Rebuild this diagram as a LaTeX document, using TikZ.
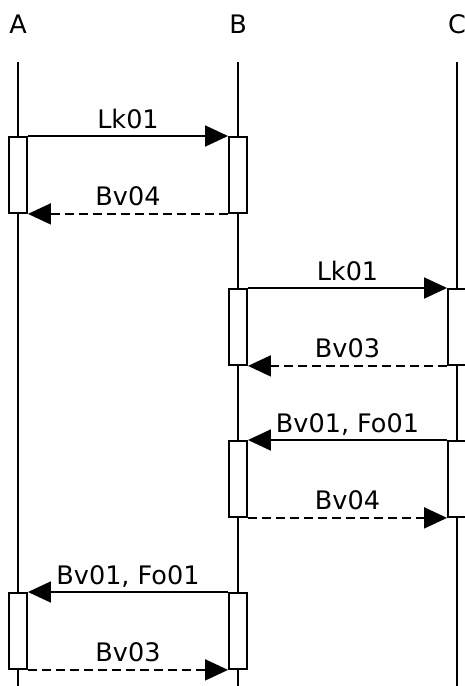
\documentclass[tikz,border=0pt]{standalone}
\usepackage{fontspec}
\setmainfont{DejaVu Sans}
\usepackage{tikz}
\usetikzlibrary{arrows.meta}

\begin{document}
\begin{tikzpicture}[x=1pt, y=-1pt, line width=1.9pt,
  font=\fontsize{25.5}{30}\selectfont,
  lifehead/.style={anchor=base, inner sep=0pt},
  actbox/.style={draw, fill=white, anchor=north, inner sep=0pt,
    minimum width=18pt, minimum height=76pt},
  msg/.style={-{Triangle[length=23pt, width=21pt]}},
  reply/.style={msg, dash pattern=on 9pt off 5pt},
  lbl/.style={midway, anchor=base, yshift=8pt, inner sep=0pt}]
\useasboundingbox (0,0) rectangle (465,686);

% lifelines
\node[lifehead] (A) at (18,33) {A};
\node[lifehead] (B) at (238,33) {B};
\node[lifehead] (C) at (457,33) {C};
\coordinate (Atop) at (18,62);  \coordinate (Abot) at (18,692);
\coordinate (Btop) at (238,62); \coordinate (Bbot) at (238,692);
\coordinate (Ctop) at (457,62); \coordinate (Cbot) at (457,692);
\draw (Atop) -- (Abot);
\draw (Btop) -- (Bbot);
\draw (Ctop) -- (Cbot);

% activations
\node[actbox] (a1) at (18,136) {};
\node[actbox] (b1) at (238,136) {};
\node[actbox] (b2) at (238,288) {};
\node[actbox] (c2) at (457,288) {};
\node[actbox] (b3) at (238,440) {};
\node[actbox] (c3) at (457,440) {};
\node[actbox] (a4) at (18,592) {};
\node[actbox] (b4) at (238,592) {};

% messages
\draw[msg] (a1.north east) -- (b1.north west) node[lbl] {Lk01};
\draw[reply] (b1.south west) -- (a1.south east) node[lbl] {Bv04};
\draw[msg] (b2.north east) -- (c2.north west) node[lbl] {Lk01};
\draw[reply] (c2.south west) -- (b2.south east) node[lbl] {Bv03};
\draw[msg] (c3.north west) -- (b3.north east) node[lbl] {Bv01, Fo01};
\draw[reply] (b3.south east) -- (c3.south west) node[lbl] {Bv04};
\draw[msg] (b4.north west) -- (a4.north east) node[lbl] {Bv01, Fo01};
\draw[reply] (a4.south east) -- (b4.south west) node[lbl] {Bv03};
\end{tikzpicture}
\end{document}
